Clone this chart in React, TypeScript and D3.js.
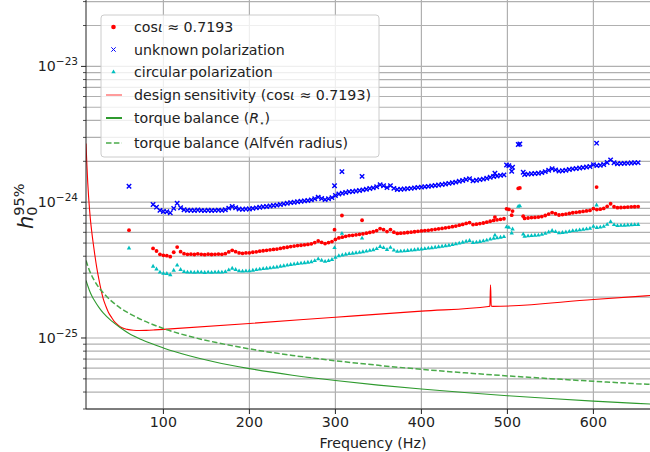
import React from 'react';
import * as d3 from 'd3';

// frequencies (Hz) of the per-bin upper limits
const FREQ = [
  60, 88, 92, 96, 100, 104, 108, 112, 116, 120,
  124, 128, 132, 136, 140, 144, 148, 152, 156, 160,
  164, 168, 172, 176, 180, 184, 188, 192, 196, 200,
  204, 208, 212, 216, 220, 224, 228, 232, 236, 240,
  244, 248, 252, 256, 260, 264, 268, 272, 276, 280,
  284, 288, 292, 296, 299, 300, 304, 307.6, 308, 312,
  316, 320, 324, 328, 331, 332, 336, 340, 344, 348,
  352, 356, 360, 364, 368, 372, 376, 380, 384, 388,
  392, 396, 400, 404, 408, 412, 416, 420, 424, 428,
  432, 436, 440, 444, 448, 452, 456, 460, 464, 468,
  472, 476, 480, 484, 485.5, 488, 492, 496, 499, 501.7,
  505, 506, 512.6, 514.5, 518.4, 520, 524, 528, 532, 536,
  540, 544, 548, 552, 556, 560, 564, 568, 572, 576,
  580, 584, 588, 592, 596, 600, 603.7, 604, 608, 612,
  616, 620, 624, 628, 632, 636, 640, 644, 648, 652,
];

// h0 upper limits, in units of 1e-24
const H_UNKNOWN = [
  1.31, 0.962, 0.919, 0.870, 0.855, 0.850, 0.835, 0.900, 0.983, 0.910,
  0.879, 0.870, 0.872, 0.868, 0.875, 0.870, 0.866, 0.872, 0.868, 0.870,
  0.874, 0.870, 0.880, 0.905, 0.930, 0.910, 0.890, 0.885, 0.890, 0.892,
  0.900, 0.908, 0.918, 0.925, 0.930, 0.938, 0.945, 0.952, 0.962, 0.972,
  0.982, 0.992, 1.000, 1.008, 1.015, 1.022, 1.030, 1.040, 1.060, 1.090,
  1.065, 1.045, 1.060, 1.080, 1.320, 1.120, 1.150, 1.680, 1.165, 1.180,
  1.195, 1.200, 1.210, 1.220, 1.550, 1.232, 1.245, 1.260, 1.275, 1.300,
  1.345, 1.320, 1.280, 1.325, 1.265, 1.240, 1.245, 1.250, 1.258, 1.265,
  1.275, 1.285, 1.292, 1.300, 1.308, 1.318, 1.328, 1.340, 1.350, 1.362,
  1.375, 1.390, 1.405, 1.425, 1.445, 1.470, 1.490, 1.440, 1.450, 1.465,
  1.480, 1.500, 1.525, 1.545, 1.635, 1.560, 1.575, 1.590, 1.880, 1.860,
  1.690, 1.810, 2.660, 2.680, 1.660, 1.600, 1.610, 1.620, 1.628, 1.635,
  1.650, 1.680, 1.720, 1.765, 1.730, 1.695, 1.705, 1.720, 1.740, 1.760,
  1.772, 1.785, 1.800, 1.815, 1.830, 1.890, 2.720, 1.858, 1.870, 1.895,
  1.960, 2.050, 1.950, 1.920, 1.925, 1.930, 1.938, 1.945, 1.950, 1.955,
];

const H_COSI = [
  0.622, 0.457, 0.437, 0.413, 0.406, 0.404, 0.397, 0.428, 0.467, 0.432,
  0.418, 0.413, 0.414, 0.412, 0.416, 0.413, 0.411, 0.414, 0.412, 0.413,
  0.415, 0.413, 0.418, 0.430, 0.442, 0.432, 0.423, 0.420, 0.423, 0.424,
  0.428, 0.431, 0.436, 0.439, 0.442, 0.446, 0.449, 0.452, 0.457, 0.462,
  0.466, 0.471, 0.475, 0.479, 0.482, 0.485, 0.489, 0.494, 0.504, 0.518,
  0.506, 0.496, 0.504, 0.513, 0.627, 0.532, 0.546, 0.798, 0.553, 0.561,
  0.568, 0.570, 0.575, 0.580, 0.736, 0.585, 0.591, 0.599, 0.606, 0.618,
  0.639, 0.627, 0.608, 0.629, 0.601, 0.589, 0.591, 0.594, 0.598, 0.601,
  0.606, 0.610, 0.614, 0.618, 0.621, 0.626, 0.631, 0.637, 0.641, 0.647,
  0.653, 0.660, 0.667, 0.677, 0.686, 0.698, 0.708, 0.684, 0.689, 0.696,
  0.703, 0.713, 0.724, 0.734, 0.777, 0.741, 0.748, 0.755, 0.893, 0.884,
  0.803, 0.860, 1.264, 1.273, 0.789, 0.760, 0.765, 0.770, 0.773, 0.777,
  0.784, 0.798, 0.817, 0.838, 0.822, 0.805, 0.810, 0.817, 0.827, 0.836,
  0.842, 0.848, 0.855, 0.862, 0.869, 0.898, 1.292, 0.883, 0.888, 0.900,
  0.931, 0.974, 0.926, 0.912, 0.914, 0.917, 0.921, 0.924, 0.926, 0.929,
];

const H_CIRC = [
  0.459, 0.337, 0.322, 0.305, 0.299, 0.298, 0.292, 0.315, 0.344, 0.319,
  0.308, 0.305, 0.305, 0.304, 0.306, 0.305, 0.303, 0.305, 0.304, 0.305,
  0.306, 0.305, 0.308, 0.317, 0.326, 0.319, 0.312, 0.310, 0.312, 0.312,
  0.315, 0.318, 0.321, 0.324, 0.326, 0.328, 0.331, 0.333, 0.337, 0.340,
  0.344, 0.347, 0.350, 0.353, 0.355, 0.358, 0.361, 0.364, 0.371, 0.382,
  0.373, 0.366, 0.371, 0.378, 0.462, 0.392, 0.403, 0.588, 0.408, 0.413,
  0.418, 0.420, 0.424, 0.427, 0.543, 0.431, 0.436, 0.441, 0.446, 0.455,
  0.471, 0.462, 0.448, 0.464, 0.443, 0.434, 0.436, 0.438, 0.440, 0.443,
  0.446, 0.450, 0.452, 0.455, 0.458, 0.461, 0.465, 0.469, 0.473, 0.477,
  0.481, 0.487, 0.492, 0.499, 0.506, 0.515, 0.522, 0.504, 0.508, 0.513,
  0.518, 0.525, 0.534, 0.541, 0.572, 0.546, 0.551, 0.557, 0.658, 0.651,
  0.592, 0.634, 0.931, 0.938, 0.581, 0.560, 0.564, 0.567, 0.570, 0.572,
  0.578, 0.588, 0.602, 0.618, 0.606, 0.593, 0.597, 0.602, 0.609, 0.616,
  0.620, 0.625, 0.630, 0.635, 0.641, 0.662, 0.952, 0.650, 0.655, 0.663,
  0.686, 0.718, 0.683, 0.672, 0.674, 0.676, 0.678, 0.681, 0.683, 0.684,
];

// design sensitivity curve (1e-24)
const DESIGN_F = [10, 11, 12, 13, 14, 15, 16.5, 18, 20, 22.5, 25, 27.5, 30, 33, 36, 40, 43, 47, 52, 58,
  65, 72, 80, 90, 100, 200, 300, 400, 478, 479.6, 480.4, 481.2, 483, 600, 680];
const DESIGN_H = [2.7, 1.9, 1.4, 1.1, 0.9, 0.76, 0.62, 0.52, 0.42, 0.33, 0.27, 0.226, 0.195, 0.172, 0.155, 0.141, 0.132, 0.125, 0.119, 0.1158,
  0.114, 0.1135, 0.1138, 0.1147, 0.1158, 0.128, 0.1422, 0.1578, 0.1705, 0.172, 0.2465, 0.172, 0.1708, 0.192, 0.2085];

// torque balance curves (1e-24)
const TORQUE_F = [10, 12, 14, 17, 20, 25, 30, 40, 50, 60, 75, 100, 130, 160, 200, 250, 300, 350, 400, 450, 500, 550, 600, 650, 700];
const TORQUE_STAR = [0.265, 0.243, 0.224, 0.203, 0.188, 0.168, 0.153, 0.133, 0.119, 0.108, 0.097, 0.0845, 0.074, 0.0665, 0.0595,
  0.0532, 0.0486, 0.045, 0.0421, 0.0397, 0.0376, 0.0358, 0.0343, 0.033, 0.0318];
const TORQUE_ALFVEN = [0.372, 0.340, 0.314, 0.285, 0.263, 0.235, 0.215, 0.186, 0.166, 0.152, 0.136, 0.1175, 0.103, 0.093, 0.0832,
  0.0744, 0.068, 0.0629, 0.0588, 0.0554, 0.0526, 0.0502, 0.048, 0.0461, 0.0444];

const X_TICKS = [100, 200, 300, 400, 500, 600];
const Y_EXPONENTS = [-23, -24, -25];

const UNIT = 1e-24;
const FONT = 'DejaVu Sans, sans-serif';
const FS = 14.2;
const GRID = '#b0b0b0';
const RED = '#ff0000';
const BLUE = '#0000ff';
const CYAN = '#00bfbf';
const GREEN = '#2e9a2e';
const GREEN_DASH = '#4aaa4a';

const left = 86, bottom = 409, top = 1.6;
const x = d3.scaleLinear().domain([10, 680]).range([left, 662.2]);
const y = d3.scaleLog().domain([3e-26, 3e-23]).range([bottom, top]);

const crossPath = 'M-2.2,-2.2L2.2,2.2M-2.2,2.2L2.2,-2.2';
const triPath = 'M0,-2.5L2.2,1.35L-2.2,1.35Z';

function curve(fs: number[], hs: number[]) {
  const line = d3.line<number>()
    .x((_, i) => x(fs[i]))
    .y(d => y(d * UNIT))
    .curve(d3.curveMonotoneX);
  return line(hs) || '';
}

// grid values: 1..9 x 10^k inside the domain
const yGrid: number[] = [];
for (let k = -26; k <= -23; k++) {
  for (let m = 1; m <= 9; m++) {
    const v = m * Math.pow(10, k);
    if (v >= 2.99e-26 && v <= 3.01e-23) yGrid.push(v);
  }
}

const legendRows = [27, 49.5, 72, 95, 118, 143];

export default function App() {
  return (
    <div style={{ position: 'absolute', left: 0, top: 0 }}>
      <svg width={650} height={452} style={{ display: 'block', background: '#fff' }} fontFamily={FONT}>
        <defs>
          <clipPath id="plot">
            <rect x={left} y={0} width={650 - left} height={bottom} />
          </clipPath>
        </defs>

        {/* grid */}
        <g stroke={GRID} strokeWidth={1.2}>
          {yGrid.map((v, i) => (
            <line key={'gy' + i} x1={left} x2={650} y1={y(v)} y2={y(v)} />
          ))}
          {X_TICKS.map(t => (
            <line key={'gx' + t} x1={x(t)} x2={x(t)} y1={0} y2={bottom} />
          ))}
        </g>

        <g clipPath="url(#plot)">
          {/* scatter: unknown polarization */}
          {FREQ.map((f, i) => (
            <path key={'b' + i} d={crossPath} transform={`translate(${x(f)},${y(H_UNKNOWN[i] * UNIT)})`}
              stroke={BLUE} strokeWidth={1.4} fill="none" />
          ))}
          {FREQ.map((f, i) => (
            <circle key={'r' + i} cx={x(f)} cy={y(H_COSI[i] * UNIT)} r={1.9} fill={RED} />
          ))}
          {FREQ.map((f, i) => (
            <path key={'c' + i} d={triPath} transform={`translate(${x(f)},${y(H_CIRC[i] * UNIT)})`} fill={CYAN} />
          ))}

          <path d={curve(DESIGN_F, DESIGN_H)} fill="none" stroke={RED} strokeWidth={1.1} />
          <path d={curve(TORQUE_F, TORQUE_STAR)} fill="none" stroke={GREEN} strokeWidth={1.1} />
          <path d={curve(TORQUE_F, TORQUE_ALFVEN)} fill="none" stroke={GREEN_DASH} strokeWidth={1.5}
            strokeDasharray="5.5,2.4" />
        </g>

        {/* spines */}
        <line x1={left} x2={left} y1={0} y2={bottom} stroke="#222" strokeWidth={1} />
        <line x1={left} x2={650} y1={bottom} y2={bottom} stroke="#222" strokeWidth={1} />

        {/* y ticks */}
        {yGrid.map((v, i) => {
          const major = Math.abs(Math.log10(v) - Math.round(Math.log10(v))) < 1e-6;
          return (
            <line key={'ty' + i} x1={left - (major ? 5 : 3)} x2={left} y1={y(v)} y2={y(v)} stroke="#222" strokeWidth={major ? 1 : 0.8} />
          );
        })}
        {Y_EXPONENTS.map(e => (
          <text key={'yl' + e} x={78} y={y(Math.pow(10, e)) + 5} textAnchor="end" fontSize={FS} fill="#222">
            <tspan>10</tspan>
            <tspan dy={-6} fontSize={10.5}>{'\u2212' + Math.abs(e)}</tspan>
          </text>
        ))}

        {/* x ticks */}
        {X_TICKS.map(t => (
          <g key={'tx' + t}>
            <line x1={x(t)} x2={x(t)} y1={bottom} y2={bottom + 5} stroke="#222" />
            <text x={x(t)} y={426.5} textAnchor="middle" fontSize={FS} fill="#222">{t}</text>
          </g>
        ))}
        <text x={373} y={447.5} textAnchor="middle" fontSize={FS} fill="#222">Frequency (Hz)</text>

        {/* y label */}
        <g transform="translate(33,206) rotate(-90)">
          <text x={-23} y={0} fill="#222">
            <tspan fontStyle="italic" fontSize={21}>h</tspan>
            <tspan fontSize={14.5} dy={4}>0</tspan>
            <tspan fontSize={14.5} dx={-9.2} dy={-13.5}>95%</tspan>
          </text>
        </g>

        {/* legend */}
        <g>
          <rect x={101} y={15} width={278} height={142} rx={3} fill="#fff" fillOpacity={0.8} stroke="#cccccc" strokeWidth={1} />
          <circle cx={113.5} cy={legendRows[0]} r={2.3} fill={RED} />
          <path d={crossPath} transform={`translate(113.5,${legendRows[1]})`} stroke={BLUE} strokeWidth={1} fill="none" />
          <path d={triPath} transform={`translate(113.5,${legendRows[2]})`} fill={CYAN} />
          <line x1={106} x2={122} y1={legendRows[3]} y2={legendRows[3]} stroke={RED} strokeOpacity={0.6} strokeWidth={1.3} />
          <line x1={106} x2={122} y1={legendRows[4]} y2={legendRows[4]} stroke={GREEN} strokeWidth={2} />
          <line x1={106} x2={122} y1={legendRows[5]} y2={legendRows[5]} stroke={GREEN_DASH} strokeWidth={1.5} strokeDasharray="5.5,2.4" />

          <g fontSize={FS} fill="#222">
            <text x={134} y={legendRows[0] + 5}>
              cos<tspan fontStyle="italic">ι</tspan> ≈ 0.7193
            </text>
            <text x={134} y={legendRows[1] + 5}>{'unknown\u2009polarization'}</text>
            <text x={134} y={legendRows[2] + 5}>{'circular\u2009polarization'}</text>
            <text x={134} y={legendRows[3] + 5}>
              {'design\u2009sensitivity (cos'}<tspan fontStyle="italic">ι</tspan>{' ≈ 0.7193)'}
            </text>
            <text x={134} y={legendRows[4] + 5}>
              {'torque\u2009balance ('}<tspan fontStyle="italic">R</tspan>
              <tspan fontSize={8.5} dy={3}>⋆</tspan><tspan dy={-3}>)</tspan>
            </text>
            <text x={134} y={legendRows[5] + 5}>{'torque\u2009balance (Alfvén radius)'}</text>
          </g>
        </g>
      </svg>
    </div>
  );
}
